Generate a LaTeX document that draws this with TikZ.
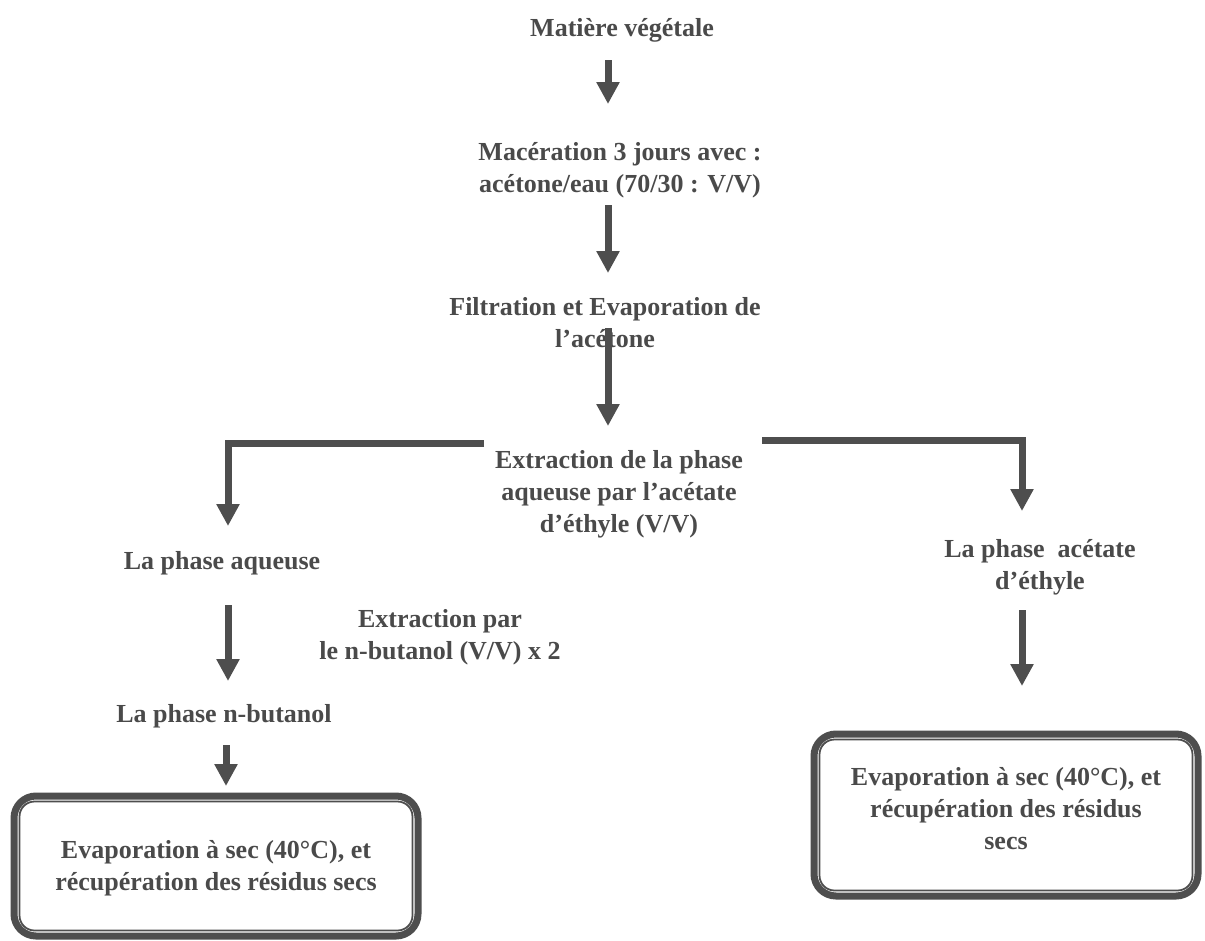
\documentclass[tikz,border=0pt]{standalone}
\usepackage{fontspec}
\setmainfont{Liberation Serif}
\usetikzlibrary{arrows.meta}
\definecolor{tc}{HTML}{4A4A4A}
\definecolor{lc}{HTML}{4E4E4E}
\newcommand\fs{\fontsize{26}{32}\selectfont\bfseries}
\begin{document}
\begin{tikzpicture}[x=1pt,y=-1pt,
  txt/.style={font=\fs, text=tc, align=center, inner sep=0pt},
  arr/.style={draw=lc, line width=7pt, -{Triangle[length=22pt,width=22pt]}},
  branch/.style={draw=lc, line width=7pt},
  outerbox/.style={draw=lc, line width=7pt, rounded corners=22pt, minimum width=#1},
  innerbox/.style={draw=lc, line width=1.8pt, rounded corners=15pt}]
\useasboundingbox[fill=white] (0,0) rectangle (1205,940);

% text nodes
\node[txt] (mat) at (622,30) {Matière végétale};
\node[txt] (mac) at (620,170) {Macération 3 jours avec :\\acétone/eau (70/30 : V/V)};
\node[txt] (filt) at (605,323) {Filtration et Evaporation de\\l’acétone};
\node[txt] (extr) at (619,494) {Extraction de la phase\\aqueuse par l’acétate\\d’éthyle (V/V)};
\node[txt] (aq) at (222,563) {La phase aqueuse};
\node[txt] (ebut) at (440,637) {Extraction par\\le n-butanol (V/V) x 2};
\node[txt] (nbut) at (224,716) {La phase n-butanol};
\node[txt] (act) at (1040,567) {La phase\ \ acétate\\d’éthyle};

% boxes
\node[outerbox=404pt, minimum height=140pt] (lbox) at (216,866) {};
\draw[innerbox] ([shift={(9,9)}]lbox.north west) rectangle ([shift={(-9,-9)}]lbox.south east);
\node[txt] (ltxt) at (216,868) {Evaporation à sec (40°C), et\\récupération des résidus secs};

\node[outerbox=384pt, minimum height=162pt] (rbox) at (1006,815) {};
\draw[innerbox] ([shift={(9,9)}]rbox.north west) rectangle ([shift={(-9,-9)}]rbox.south east);
\node[txt] (rtxt) at (1006,809) {Evaporation à sec (40°C), et\\récupération des résidus\\secs};

% arrow end coordinates
\coordinate (a1s) at (608,60);   \coordinate (a1e) at (608,104);
\coordinate (a2s) at (608,205);  \coordinate (a2e) at (608,273);
\coordinate (a3s) at (608,328);  \coordinate (a3e) at (608,426);
\coordinate (lbs) at (484,443);  \coordinate (lbc) at (228,443); \coordinate (lbe) at (228,526);
\coordinate (rbs) at (762,440);  \coordinate (rbc) at (1022,440); \coordinate (rbe) at (1022,511);
\coordinate (a4s) at (228,605);  \coordinate (a4e) at (228,681);
\coordinate (a5s) at (226,745);  \coordinate (a5e) at (226,786);
\coordinate (a6s) at (1022,610); \coordinate (a6e) at (1022,686);

\draw[arr] (a1s) -- (a1e);
\draw[arr] (a2s) -- (a2e);
\draw[arr] (a3s) -- (a3e);
\draw[arr] (lbs) -- (lbc) -- (lbe);
\draw[arr] (rbs) -- (rbc) -- (rbe);
\draw[arr] (a4s) -- (a4e);
\draw[arr] (a5s) -- (a5e);
\draw[arr] (a6s) -- (a6e);
\end{tikzpicture}
\end{document}
